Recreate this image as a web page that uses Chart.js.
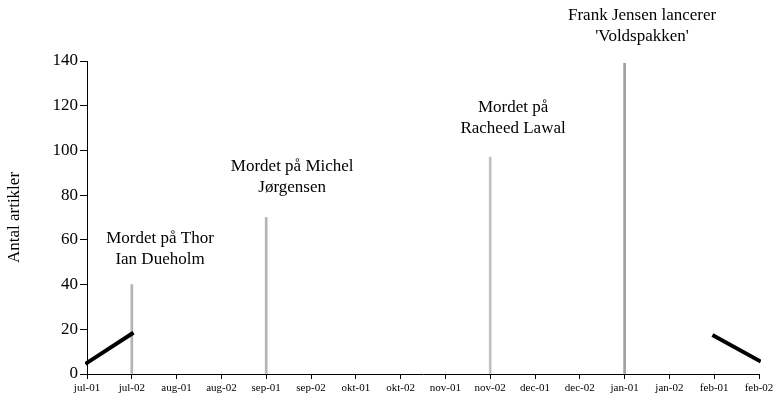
<!DOCTYPE html>
<html>
<head>
<meta charset="utf-8">
<script src="https://cdn.jsdelivr.net/npm/chart.js@4/dist/chart.umd.min.js"></script>
<style>
  body { margin: 0; background: #fff; }
  #wrap { width: 779px; height: 400px; }
</style>
</head>
<body>
<div id="wrap"><canvas id="chart" width="779" height="400"></canvas></div>
<script>
// categories on the x axis
var months = ['jul-01', 'jul-02', 'aug-01', 'aug-02', 'sep-01', 'sep-02', 'okt-01', 'okt-02',
              'nov-01', 'nov-02', 'dec-01', 'dec-02', 'jan-01', 'jan-02', 'feb-01', 'feb-02'];

// number of articles, thick black line (only the ends are visible)
var articles = [5, 18, null, null, null, null, null, null, null, null, null, null, null, null, 17, 6];

// event markers (thin vertical lines)
var events = [null, 40, null, null, 70, null, null, null, null, 97, null, null, 139, null, null, null];
var eventColors = ['#b4b4b4', '#b4b4b4', '#b4b4b4', '#b4b4b4', '#b4b4b4', '#b4b4b4', '#b4b4b4', '#b4b4b4',
                   '#c0c0c0', '#c0c0c0', '#c0c0c0', '#c0c0c0', '#a0a0a0', '#a0a0a0', '#a0a0a0', '#a0a0a0'];

// event labels
var noteText = [
    ['Mordet på Thor', 'Ian Dueholm'],
    ['Mordet på Michel', 'Jørgensen'],
    ['Mordet på', 'Racheed Lawal'],
    ['Frank Jensen lancerer', "'Voldspakken'"]
];
var noteX = [1.63, 4.58, 9.51, 12.39];
var noteY = [60.8, 92.6, 119, 160.5];

var serif = '"Liberation Serif", "Times New Roman", serif';

var notesPlugin = {
    id: 'notes',
    afterDraw: function(chart) {
        var ctx = chart.ctx;
        var xs = chart.scales.x;
        var ys = chart.scales.y;
        ctx.save();
        ctx.font = '17px ' + serif;
        ctx.fillStyle = '#000';
        ctx.textAlign = 'center';
        ctx.textBaseline = 'middle';
        for (var i = 0; i < noteText.length; i++) {
            var px = xs.getPixelForValue(noteX[i]);
            var py = ys.getPixelForValue(noteY[i]);
            for (var j = 0; j < noteText[i].length; j++) {
                ctx.fillText(noteText[i][j], px, py + j * 21);
            }
        }
        ctx.restore();
    }
};

new Chart(document.getElementById('chart'), {
    type: 'line',
    data: {
        labels: months,
        datasets: [{
            type: 'bar',
            label: 'Begivenheder',
            data: events,
            backgroundColor: eventColors,
            borderWidth: 0,
            barThickness: 2,
            order: 2
        }, {
            type: 'line',
            label: 'Antal artikler',
            data: articles,
            borderColor: '#000',
            borderWidth: 4,
            borderCapStyle: 'square',
            pointRadius: 0,
            spanGaps: false,
            fill: false,
            tension: 0,
            order: 1
        }]
    },
    options: {
        responsive: false,
        animation: false,
        layout: { padding: { top: 61, right: 20, left: 0, bottom: 0 } },
        plugins: {
            legend: { display: false },
            tooltip: { enabled: false }
        },
        scales: {
            x: {
                type: 'category',
                offset: false,
                grid: { drawOnChartArea: false, color: '#000', tickLength: 5, offset: false },
                border: { color: '#000', width: 1 },
                ticks: {
                    color: '#000',
                    font: { family: serif, size: 11 },
                    maxRotation: 0,
                    autoSkip: false,
                    padding: 3
                },
                afterFit: function(scale) { scale.height = 26; }
            },
            y: {
                min: 0,
                max: 140,
                grid: { drawOnChartArea: false, color: '#000', tickLength: 7 },
                border: { color: '#000', width: 1 },
                ticks: {
                    stepSize: 20,
                    color: '#000',
                    font: { family: serif, size: 17 },
                    padding: 2
                },
                title: {
                    display: true,
                    text: 'Antal artikler',
                    color: '#000',
                    font: { family: serif, size: 17 },
                    padding: { top: 4, bottom: 0 }
                },
                afterFit: function(scale) { scale.width = 87; }
            }
        }
    },
    plugins: [notesPlugin]
});
</script>
</body>
</html>
